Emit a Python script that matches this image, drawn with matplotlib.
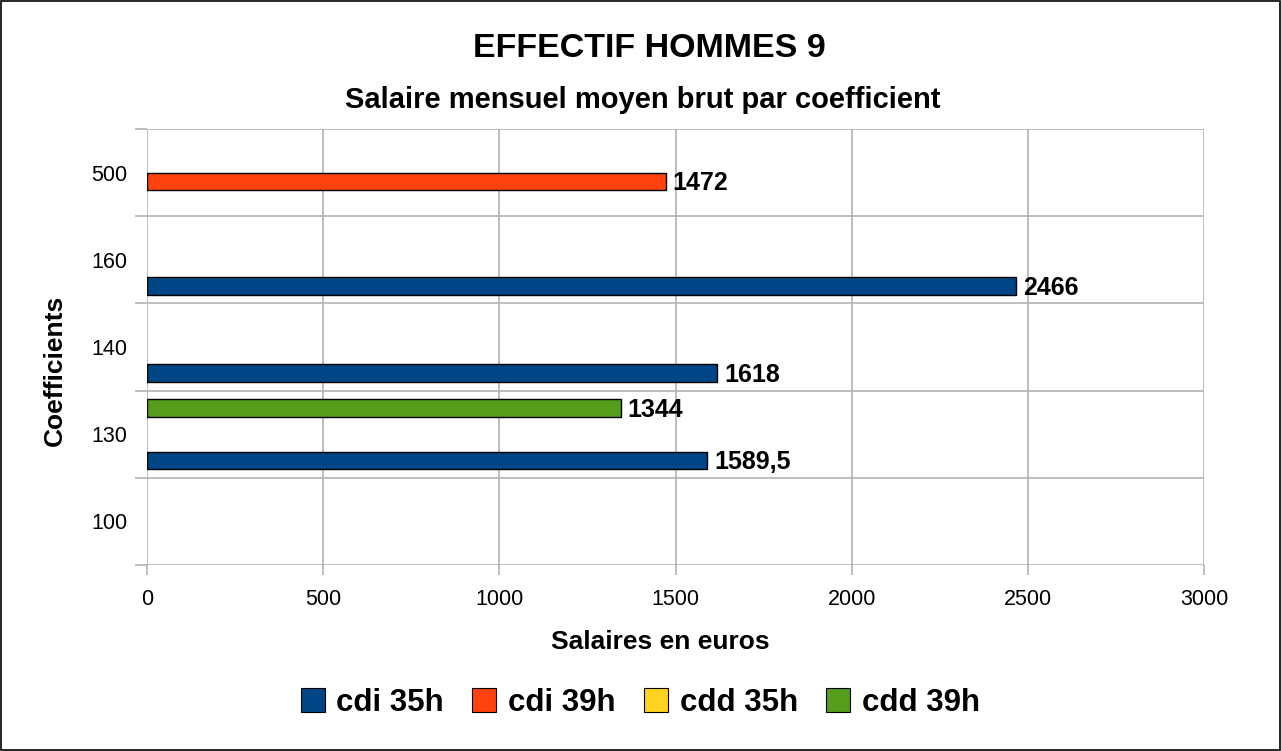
import matplotlib.pyplot as plt
import numpy as np
from matplotlib.patches import Rectangle

# Data
coefficients = ['100', '130', '140', '160', '500']
series_names = ['cdi 35h', 'cdi 39h', 'cdd 35h', 'cdd 39h']
series_colors = ['#004586', '#ff420e', '#ffd320', '#579d1c']
cdi_35h = [np.nan, 1589.5, 1618, 2466, np.nan]
cdi_39h = [np.nan, np.nan, np.nan, np.nan, 1472]
cdd_35h = [np.nan, np.nan, np.nan, np.nan, np.nan]
cdd_39h = [np.nan, 1344, np.nan, np.nan, np.nan]
x_ticks = [0, 500, 1000, 1500, 2000, 2500, 3000]

plt.rcParams['font.family'] = ['Liberation Sans', 'DejaVu Sans']

fig = plt.figure(figsize=(12.81, 7.51), dpi=100)
ax = fig.add_axes([0.1148, 0.2477, 0.8251, 0.5805])

# Outer frame around the whole chart
fig.patches.append(Rectangle((0.0005, 0.0007), 0.9985, 0.9982, transform=fig.transFigure,
                             fill=False, edgecolor='black', linewidth=1.2))

y = np.arange(len(coefficients))
bar_h = 0.2
all_series = [cdi_35h, cdi_39h, cdd_35h, cdd_39h]
for i, (vals, name, color) in enumerate(zip(all_series, series_names, series_colors)):
    pos = y + (i - 1.5) * bar_h
    ax.barh(pos, vals, height=bar_h, color=color, edgecolor='black', linewidth=1,
            label=name, zorder=3)
    for p, v in zip(pos, vals):
        if not np.isnan(v):
            txt = f'{v:g}'.replace('.', ',')
            ax.annotate(txt, (v, p), xytext=(5, -1.5), textcoords='offset points',
                        va='center', ha='left', fontsize=18, fontweight='bold')

ax.set_xlim(0, 3000)
ax.set_ylim(-0.5, len(coefficients) - 0.5)
ax.set_xticks(x_ticks)
ax.set_yticks(y)
ax.set_yticklabels(coefficients)
ax.set_yticks(np.arange(-0.5, len(coefficients)), minor=True)

for s in ax.spines.values():
    s.set_visible(False)

grid_c = '#b3b3b3'
ax.grid(True, axis='x', which='major', color=grid_c, linewidth=1.2, zorder=0)
ax.grid(True, axis='y', which='minor', color=grid_c, linewidth=1.2, zorder=0)
ax.tick_params(axis='x', which='major', length=7, color=grid_c, width=1.2, pad=10, labelsize=15.5)
ax.tick_params(axis='y', which='minor', length=9, color=grid_c, width=1.2)
ax.tick_params(axis='y', which='major', length=0, pad=14, labelsize=15.5)

ax.set_xlabel('Salaires en euros', fontsize=19, fontweight='bold', va='center')
ax.xaxis.set_label_coords(0.486, -0.176)
ax.set_ylabel('Coefficients', fontsize=19, fontweight='bold', va='center')
ax.yaxis.set_label_coords(-0.087, 0.447)

fig.text(0.507, 0.936, 'EFFECTIF HOMMES 9', ha='center', va='center',
         fontsize=24.5, fontweight='bold')
fig.text(0.502, 0.867, 'Salaire mensuel moyen brut par coefficient', ha='center',
         va='center', fontsize=21, fontweight='bold')

leg = fig.legend(loc='center', bbox_to_anchor=(0.5, 0.064), ncol=4, frameon=False,
                 prop={'weight': 'bold', 'size': 22.5},
                 handlelength=0.77, handleheight=0.77, handletextpad=0.38,
                 columnspacing=0.9)
for h in leg.legend_handles:
    h.set_edgecolor('black')
    h.set_linewidth(0.8)

fig.savefig('out.png', dpi=100)
plt.close(fig)
